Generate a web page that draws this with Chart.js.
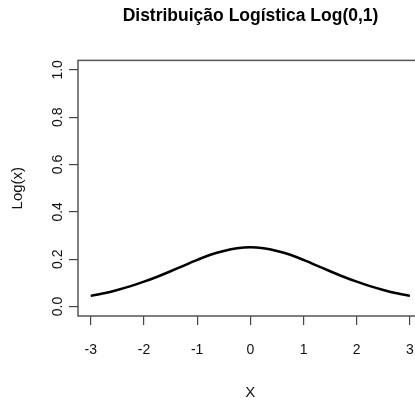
<!DOCTYPE html>
<html>
<head>
<meta charset="utf-8">
<script src="https://cdn.jsdelivr.net/npm/chart.js@4/dist/chart.umd.min.js"></script>
<style>
html,body{margin:0;padding:0;background:#fff;overflow:hidden;}
#wrap{width:501px;height:406px;}
</style>
</head>
<body>
<div id="wrap"><canvas id="c" width="501" height="406"></canvas></div>
<script>
// Data
const xValues = [-3, -2.75, -2.5, -2.25, -2, -1.75, -1.5, -1.25, -1, -0.75, -0.5, -0.25, 0,
                 0.25, 0.5, 0.75, 1, 1.25, 1.5, 1.75, 2, 2.25, 2.5, 2.75, 3];
const densityValues = [0.045, 0.056, 0.070, 0.086, 0.105, 0.126, 0.149, 0.173, 0.197, 0.219, 0.235, 0.246, 0.250,
                       0.246, 0.235, 0.219, 0.197, 0.173, 0.149, 0.126, 0.105, 0.086, 0.070, 0.056, 0.045];
const xTicks = [-3, -2, -1, 0, 1, 2, 3];
const yTicks = [0, 0.2, 0.4, 0.6, 0.8, 1.0];
const titleText = 'Distribuição Logística Log(0,1)';
const xTitle = 'X';
const yTitle = 'Log(x)';

const FONT = "'Liberation Sans', Arial, sans-serif";
const points = xValues.map((x, i) => ({x: x, y: densityValues[i]}));

const boxPlugin = {
  id: 'box',
  afterDatasetsDraw(chart) {
    const {ctx, chartArea: a} = chart;
    ctx.save();
    ctx.strokeStyle = '#555';
    ctx.lineWidth = 1.5;
    ctx.strokeRect(a.left, a.top, a.right - a.left, a.bottom - a.top);
    ctx.restore();
  }
};

new Chart(document.getElementById('c'), {
  type: 'line',
  data: {
    datasets: [{
      data: points,
      borderColor: '#000',
      borderWidth: 2.5,
      pointRadius: 0,
      fill: false,
      tension: 0.3
    }]
  },
  options: {
    responsive: false,
    animation: false,
    layout: {padding: 0},
    plugins: {
      legend: {display: false},
      tooltip: {enabled: false},
      title: {
        display: true,
        text: titleText,
        color: '#000',
        font: {family: FONT, size: 17.5, weight: 'bold'},
        padding: {top: 6, bottom: 33.4}
      }
    },
    scales: {
      x: {
        type: 'linear',
        min: -3.24,
        max: 3.24,
        afterBuildTicks: s => { s.ticks = xTicks.map(v => ({value: v})); },
        afterFit: s => { s.height = 90; },
        border: {display: false},
        grid: {drawOnChartArea: false, drawTicks: true, tickLength: 9, color: '#444', lineWidth: 1.2},
        ticks: {
          color: '#111',
          font: {family: FONT, size: 14},
          padding: 16.6,
          maxRotation: 0,
          callback: v => String(v)
        },
        title: {
          display: true,
          text: xTitle,
          color: '#111',
          font: {family: FONT, size: 15},
          padding: {top: 0, bottom: 4}
        }
      },
      y: {
        type: 'linear',
        min: -0.04,
        max: 1.04,
        afterBuildTicks: s => { s.ticks = yTicks.map(v => ({value: v})); },
        afterFit: s => { s.width = 78; },
        border: {display: false},
        grid: {drawOnChartArea: false, drawTicks: true, tickLength: 9, color: '#444', lineWidth: 1.2},
        ticks: {
          color: '#111',
          font: {family: FONT, size: 14},
          minRotation: 90,
          maxRotation: 90,
          crossAlign: 'center',
          padding: 1.5,
          callback: v => v.toFixed(1)
        },
        title: {
          display: true,
          text: yTitle,
          color: '#111',
          font: {family: FONT, size: 15},
          padding: {top: 9, bottom: 0}
        }
      },
      yRight: {
        type: 'linear',
        position: 'right',
        min: -0.04,
        max: 1.04,
        afterFit: s => { s.width = 78.3; },
        border: {display: false},
        grid: {display: false},
        ticks: {display: false}
      }
    }
  },
  plugins: [boxPlugin]
});
</script>
</body>
</html>
